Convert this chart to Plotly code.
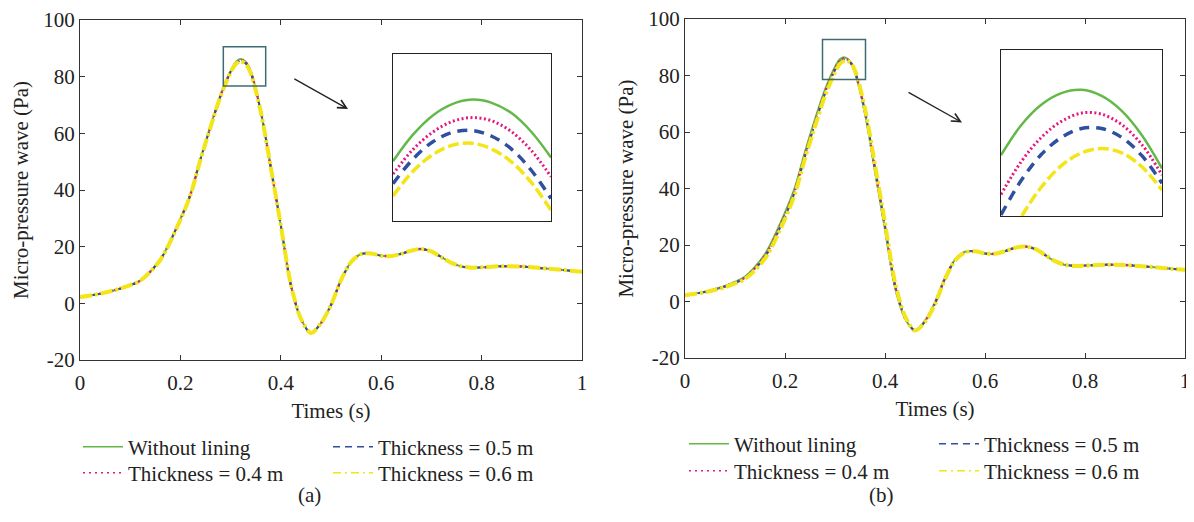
import plotly.graph_objects as go

# the page body adds an 8 px margin, so the figure is laid out 8 px smaller
PAGE_W, PAGE_H, BODY = 1194, 522, 8
W, H = PAGE_W - BODY, PAGE_H - BODY
SERIF = "Liberation Serif"

# time axis shared by every main curve (s)
t_main = [0.00, 0.04, 0.08, 0.12, 0.16, 0.20, 0.22, 0.24, 0.26, 0.28, 0.30, 0.31, 0.32,
          0.33, 0.34, 0.36, 0.38, 0.40, 0.42, 0.44, 0.46, 0.48, 0.50, 0.52, 0.54, 0.56,
          0.58, 0.60, 0.62, 0.64, 0.66, 0.68, 0.70, 0.72, 0.74, 0.76, 0.78, 0.80, 0.84,
          0.88, 0.92, 0.96, 1.00]

# panel (a) micro-pressure wave (Pa)
a_none = [2.2, 3.4, 5.2, 8.0, 15.5, 29.8, 38.5, 51.0, 62.5, 73.5, 82.0, 85.0, 86.2,
          85.3, 82.0, 68.0, 48.0, 27.5, 6.5, -5.5, -10.5, -7.0, -0.6, 8.2, 14.6, 17.4,
          17.6, 16.8, 16.7, 17.5, 18.6, 19.2, 18.3, 16.3, 14.3, 13.0, 12.6, 12.7, 13.1,
          13.0, 12.4, 11.8, 11.1]
a_04 = [2.2, 3.4, 5.2, 8.0, 15.4, 29.7, 38.4, 50.9, 62.4, 73.3, 81.8, 84.7, 85.9,
        85.0, 81.8, 67.9, 48.0, 27.5, 6.5, -5.5, -10.5, -7.0, -0.6, 8.2, 14.6, 17.4,
        17.6, 16.8, 16.7, 17.5, 18.6, 19.2, 18.3, 16.3, 14.3, 13.0, 12.6, 12.7, 13.1,
        13.0, 12.4, 11.8, 11.1]
a_05 = [2.2, 3.4, 5.2, 8.0, 15.4, 29.6, 38.3, 50.8, 62.3, 73.2, 81.7, 84.6, 85.6,
        84.7, 81.5, 67.8, 48.0, 27.6, 6.6, -5.5, -10.5, -7.0, -0.6, 8.2, 14.6, 17.4,
        17.6, 16.8, 16.7, 17.5, 18.6, 19.2, 18.3, 16.3, 14.3, 13.0, 12.6, 12.7, 13.1,
        13.0, 12.4, 11.8, 11.1]
a_06 = [2.2, 3.4, 5.2, 8.0, 15.3, 29.5, 38.2, 50.7, 62.2, 73.1, 81.5, 84.4, 85.4,
        84.5, 81.3, 67.7, 48.0, 27.6, 6.7, -5.4, -10.5, -7.0, -0.6, 8.2, 14.6, 17.4,
        17.6, 16.8, 16.7, 17.5, 18.6, 19.2, 18.3, 16.3, 14.3, 13.0, 12.6, 12.7, 13.1,
        13.0, 12.4, 11.8, 11.1]

# panel (b)
b_none = [2.3, 3.5, 5.5, 8.8, 16.8, 31.5, 40.5, 53.0, 64.5, 75.0, 83.0, 85.8, 86.4,
          85.0, 81.0, 66.5, 46.0, 25.5, 5.0, -6.0, -10.3, -6.8, -0.3, 8.4, 14.8, 17.6,
          17.8, 17.0, 16.9, 17.8, 19.0, 19.5, 18.6, 16.4, 14.2, 12.9, 12.6, 12.7, 13.0,
          12.9, 12.4, 11.8, 11.2]
b_04 = [2.3, 3.4, 5.4, 8.5, 16.2, 30.6, 39.5, 52.0, 63.5, 74.2, 82.4, 85.3, 86.0,
        84.9, 81.3, 67.0, 46.8, 26.2, 5.6, -5.8, -10.3, -7.0, -0.5, 8.2, 14.7, 17.5,
        17.8, 17.0, 16.9, 17.8, 19.0, 19.5, 18.6, 16.5, 14.3, 13.0, 12.6, 12.7, 13.0,
        12.9, 12.4, 11.8, 11.2]
b_05 = [2.3, 3.4, 5.3, 8.3, 15.8, 30.0, 39.0, 51.4, 62.9, 73.6, 81.9, 84.9, 85.7,
        84.8, 81.4, 67.4, 47.3, 26.8, 6.0, -5.6, -10.3, -7.1, -0.7, 8.1, 14.6, 17.5,
        17.8, 17.0, 16.9, 17.8, 19.0, 19.5, 18.6, 16.5, 14.3, 13.0, 12.6, 12.7, 13.0,
        12.9, 12.4, 11.8, 11.2]
b_06 = [2.2, 3.3, 5.1, 8.0, 15.2, 29.2, 38.2, 50.6, 62.0, 72.8, 81.0, 84.2, 85.2,
        84.7, 81.8, 68.2, 48.3, 27.8, 6.8, -5.2, -10.3, -7.3, -0.9, 7.9, 14.5, 17.4,
        17.8, 17.0, 16.9, 17.8, 19.0, 19.5, 18.6, 16.5, 14.3, 13.0, 12.6, 12.7, 13.0,
        12.9, 12.4, 11.8, 11.2]

# zoomed peak shown in the insets
t_zoom = [0.310, 0.3125, 0.315, 0.3175, 0.320, 0.3225, 0.325, 0.3275, 0.330]
za_none = [85.23, 85.64, 85.94, 86.12, 86.19, 86.14, 85.98, 85.69, 85.29]
za_04 = [85.03, 85.41, 85.68, 85.85, 85.91, 85.86, 85.69, 85.40, 84.99]
za_05 = [84.88, 85.26, 85.53, 85.68, 85.71, 85.62, 85.42, 85.09, 84.65]
za_06 = [84.69, 85.07, 85.33, 85.48, 85.51, 85.42, 85.22, 84.90, 84.47]
zb_none = [85.10, 85.64, 86.01, 86.22, 86.28, 86.17, 85.90, 85.46, 84.86]
zb_04 = [84.39, 84.98, 85.42, 85.71, 85.86, 85.84, 85.65, 85.29, 84.74]
zb_05 = [84.02, 84.64, 85.11, 85.42, 85.58, 85.58, 85.42, 85.09, 84.59]
zb_06 = [83.28, 83.98, 84.52, 84.91, 85.14, 85.22, 85.14, 84.89, 84.47]

names = ["Without lining", "Thickness = 0.4 m", "Thickness = 0.5 m", "Thickness = 0.6 m"]
colors = ["#63B948", "#E5197B", "#2F4FA0", "#F3E517"]
main_style = [(2, "solid"), (2.5, "2px,3px"), (2, "8px,5px"), (4, "12px,3px,3px,3px")]
zoom_style = [(2.5, "solid"), (3, "2px,2.5px"), (3.5, "10px,7px"), (3.5, "11px,4px")]
leg_style = [(1.5, "solid"), (1.5, "2px,4px"), (1.5, "7px,5px"), (1.5, "8px,4px,2px,4px")]
# key rows: row 1 = green + blue, row 2 = pink + yellow
key_row = [0, 1, 0, 1]

panels = [
    dict(main=[a_none, a_04, a_05, a_06], zoom=[za_none, za_04, za_05, za_06],
         ax=("x", "y"), zx=("x3", "y3"), legs=("legend", "legend2")),
    dict(main=[b_none, b_04, b_05, b_06], zoom=[zb_none, zb_04, zb_05, zb_06],
         ax=("x2", "y2"), zx=("x4", "y4"), legs=("legend3", "legend4")),
]

fig = go.Figure()
for p in panels:
    for i in range(4):
        w, d = main_style[i]
        fig.add_trace(go.Scatter(
            x=t_main, y=p["main"][i], xaxis=p["ax"][0], yaxis=p["ax"][1], mode="lines",
            line=dict(color=colors[i], width=w, dash=d, shape="spline", smoothing=0.8),
            showlegend=False, hoverinfo="skip"))
        w, d = zoom_style[i]
        fig.add_trace(go.Scatter(
            x=t_zoom, y=p["zoom"][i], xaxis=p["zx"][0], yaxis=p["zx"][1], mode="lines",
            line=dict(color=colors[i], width=w, dash=d, shape="spline"),
            showlegend=False, hoverinfo="skip"))
    # legend-only entries, thin lines like the original key
    for i in [0, 2, 1, 3]:
        w, d = leg_style[i]
        fig.add_trace(go.Scatter(
            x=[None], y=[None], xaxis=p["ax"][0], yaxis=p["ax"][1], mode="lines",
            name=names[i], line=dict(color=colors[i], width=w, dash=d),
            legend=p["legs"][key_row[i]]))


# positions below are screen pixels of the 1194x522 page
def fx(px):
    return (px - BODY) / W


def fy(py):
    return 1 - (py - BODY) / H


txt = dict(family=SERIF, size=21, color="#222")
frame = dict(showline=True, linecolor="#333", linewidth=1.3, mirror="ticks", ticks="inside",
             ticklen=5, tickwidth=1.2, tickcolor="#333", showgrid=False, zeroline=False,
             automargin=False, ticklabeloverflow="allow", tickfont=txt)
x_ticks = dict(range=[0, 1], tickvals=[0, 0.2, 0.4, 0.6, 0.8, 1],
               ticktext=["0", "0.2", "0.4", "0.6", "0.8", "1"], ticklabelstandoff=4,
               title=dict(text="Times (s)", standoff=8, font=txt))
y_ticks = dict(range=[-20, 100], tickvals=[-20, 0, 20, 40, 60, 80, 100],
               ticktext=["-20", "0", "20", "40", "60", "80", "100"],
               title=dict(text="Micro-pressure wave (Pa)", standoff=8, font=txt))
inset = dict(showline=True, linecolor="#222", linewidth=1.3, mirror=True, ticks="",
             showticklabels=False, showgrid=False, zeroline=False, automargin=False)

leg = dict(orientation="h", xanchor="left", yanchor="middle", bgcolor="rgba(0,0,0,0)",
           font=txt, entrywidth=195, entrywidthmode="pixels", itemwidth=40)

fig.update_layout(
    template="none",
    width=W, height=H, margin=dict(l=0, r=0, t=0, b=0, autoexpand=False),
    paper_bgcolor="white", plot_bgcolor="white",
    font=txt,
    xaxis=dict(domain=[fx(80), fx(582)], anchor="y", **frame, **x_ticks),
    yaxis=dict(domain=[fy(360), fy(20)], anchor="x", **frame, **y_ticks),
    xaxis2=dict(domain=[fx(685), fx(1185)], anchor="y2", **frame, **x_ticks),
    yaxis2=dict(domain=[fy(358), fy(19)], anchor="x2", **frame, **y_ticks),
    xaxis3=dict(domain=[fx(393), fx(551)], anchor="y3", range=[0.310, 0.330], **inset),
    yaxis3=dict(domain=[fy(221), fy(54)], anchor="x3", range=[84.3, 86.9], **inset),
    xaxis4=dict(domain=[fx(1001), fx(1162)], anchor="y4", range=[0.310, 0.330], **inset),
    yaxis4=dict(domain=[fy(216), fy(50)], anchor="x4", range=[84.0, 87.0], **inset),
    legend=dict(x=fx(78), y=fy(447), **leg),
    legend2=dict(x=fx(78), y=fy(473), **leg),
    legend3=dict(x=fx(684), y=fy(444), **leg),
    legend4=dict(x=fx(684), y=fy(471), **leg),
    showlegend=True,
)

# zoom boxes around the peak
fig.add_shape(type="rect", xref="x", yref="y", x0=0.2855, x1=0.3699, y0=76.7, y1=90.6,
              line=dict(color="#3E6C74", width=1.5))
fig.add_shape(type="rect", xref="x2", yref="y2", x0=0.275, x1=0.361, y0=78.6, y1=92.7,
              line=dict(color="#3E6C74", width=1.5))

# arrows pointing to the insets
for xr, yr, tail, head in [("x", "y", (0.424, 79.5), (0.534, 68.6)),
                           ("x2", "y2", (0.444, 74.3), (0.554, 63.4))]:
    fig.add_annotation(x=head[0], y=head[1], ax=tail[0], ay=tail[1], xref=xr, yref=yr,
                       axref=xr, ayref=yr, text="", showarrow=True, arrowhead=5,
                       arrowsize=1.3, arrowwidth=1.3, arrowcolor="#222", standoff=0)

for label, cx in [("(a)", 296), ("(b)", 896)]:
    fig.add_annotation(text=label, x=fx(cx), y=fy(509), xref="paper", yref="paper",
                       showarrow=False, font=txt)

fig.write_html("out.html")
